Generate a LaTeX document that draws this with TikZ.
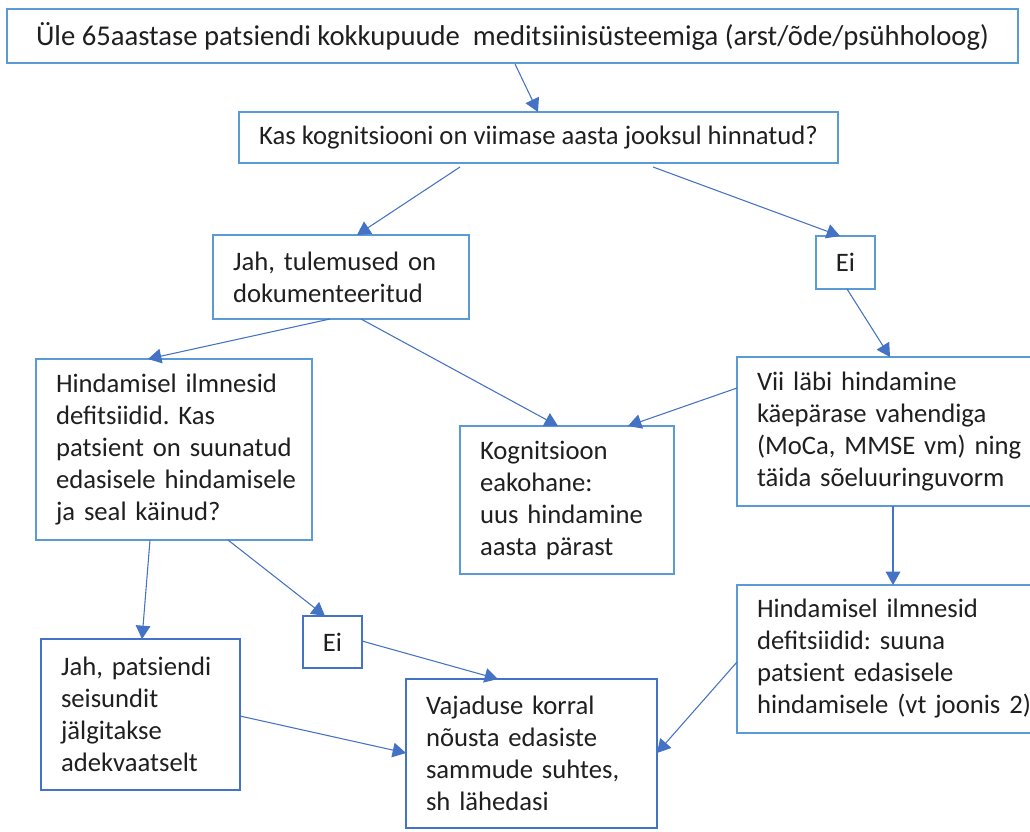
\documentclass[tikz,border=0pt]{standalone}
\usepackage{fontspec}
\setmainfont{Carlito}
\usetikzlibrary{arrows.meta,calc}
\definecolor{lb}{HTML}{5B9BD5}
\definecolor{db}{HTML}{4472C4}
\definecolor{ar}{HTML}{4472C4}
\frenchspacing
\begin{document}
\begin{tikzpicture}[x=0.75pt,y=-0.75pt,
  box/.style={draw=lb, line width=1.6pt, rectangle, anchor=north west, outer sep=0pt,
    inner sep=0pt, align=left, text=black!88, font=\fontsize{20}{24}\selectfont\frenchspacing},
  dbox/.style={box, draw=db},
  arr/.style={draw=ar, line width=0.8pt, -{Triangle[length=10pt,width=11pt]}}]
\useasboundingbox (0,0) rectangle (1030,831);
\clip (0,0) rectangle (1030,831);

\node[box, align=center, minimum width=758.25pt, minimum height=40.5pt,
  font=\fontsize{21.5}{26}\selectfont] (top) at (7,9)
  {Üle 65aastase patsiendi kokkupuude\ \ meditsiinisüsteemiga (arst/õde/psühholoog)};
\node[box, align=center, minimum width=449.25pt, minimum height=38.25pt] (kas) at (239,112)
  {Kas kognitsiooni on viimase aasta jooksul hinnatud?};
\node[box, minimum width=192pt, minimum height=63pt, text width=162pt] (jah1) at (213,235)
  {\mbox{Jah, tulemused on}\\\mbox{dokumenteeritud}};
\node[box, align=center, minimum width=44.25pt, minimum height=39.75pt] (ei1) at (816,236) {Ei};
\node[box, minimum width=207pt, minimum height=135.75pt, text width=177pt] (left) at (36,359)
  {\mbox{Hindamisel ilmnesid}\\\mbox{defitsiidid. Kas}\\\mbox{patsient on suunatud}\\\mbox{edasisele hindamisele}\\\mbox{ja seal käinud?}};
\node[box, minimum width=160.5pt, minimum height=111pt, text width=130.5pt] (kog) at (460,426)
  {\mbox{Kognitsioon}\\\mbox{eakohane:}\\\mbox{uus hindamine}\\\mbox{aasta pärast}};
\node[box, minimum width=240pt, minimum height=111.75pt, text width=210pt] (vii) at (737,357)
  {\mbox{Vii läbi hindamine}\\\mbox{käepärase vahendiga}\\\mbox{(MoCa, MMSE vm) ning}\\\mbox{täida sõeluuringuvorm}};
\node[box, minimum width=240pt, minimum height=111pt, text width=210pt] (dr) at (737,585)
  {\mbox{Hindamisel ilmnesid}\\\mbox{defitsiidid: suuna}\\\mbox{patsient edasisele}\\\mbox{hindamisele (vt joonis 2)}};
\node[dbox, align=center, minimum width=44.25pt, minimum height=39pt] (ei2) at (303,616) {Ei};
\node[dbox, minimum width=149.25pt, minimum height=113.25pt, text width=119.25pt] (jah2) at (41,639)
  {\mbox{Jah, patsiendi}\\\mbox{seisundit}\\\mbox{jälgitakse}\\\mbox{adekvaatselt}};
\node[dbox, minimum width=188.25pt, minimum height=111.75pt, text width=158.25pt] (vaj) at (406,679)
  {\mbox{Vajaduse korral}\\\mbox{nõusta edasiste}\\\mbox{sammude suhtes,}\\\mbox{sh lähedasi}};

\draw[arr] ($(top.south west)+(508,1)$) -- ($(kas.north west)+(299,0)$);
\draw[arr] ($(kas.south west)+(221,4)$) -- ($(jah1.north west)+(144,0)$);
\draw[arr] ($(kas.south west)+(414,4)$) -- ($(ei1.north west)+(24,0)$);
\draw[arr] ($(ei1.south west)+(31,0)$) -- ($(vii.north west)+(153,0)$);
\draw[arr] ($(jah1.south west)+(117,0)$) -- ($(left.north west)+(112,0)$);
\draw[arr] ($(jah1.south west)+(148,0)$) -- ($(kog.north west)+(98,0)$);
\draw[arr] ($(vii.north west)+(0,31)$) -- ($(kog.north west)+(168,0)$);
\draw[arr] ($(left.south west)+(114,0)$) -- ($(jah2.north west)+(101,0)$);
\draw[arr] ($(left.south west)+(192,0)$) -- ($(ei2.north west)+(22,0)$);
\draw[arr] ($(ei2.north west)+(59,25)$) -- ($(vaj.north west)+(92,0)$);
\draw[arr] ($(jah2.north west)+(199,77)$) -- ($(vaj.north west)+(0,74)$);
\draw[arr] ($(vii.south west)+(156,0)$) -- ($(dr.north west)+(156,0)$);
\draw[arr] ($(dr.north west)+(0,77)$) -- ($(vaj.north west)+(251,74)$);
\end{tikzpicture}
\end{document}
